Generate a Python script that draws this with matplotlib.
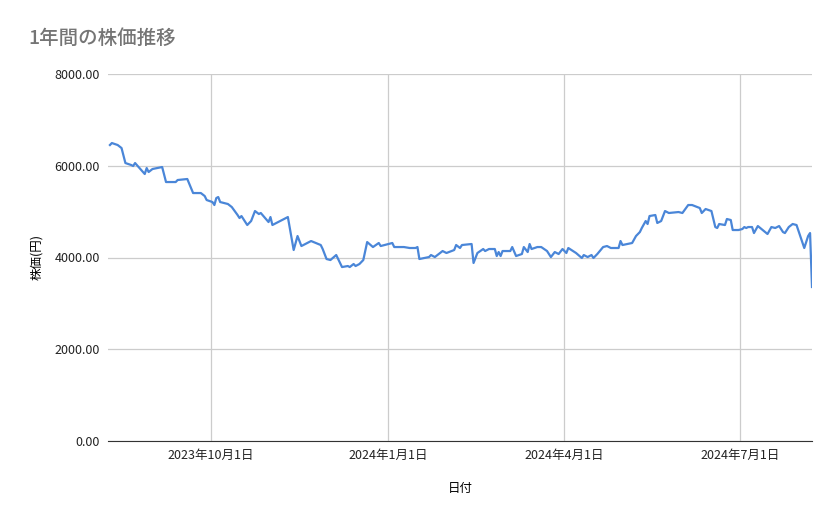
import datetime as dt
import matplotlib
matplotlib.use("Agg")
import matplotlib.pyplot as plt
from matplotlib.ticker import FuncFormatter

plt.rcParams["font.family"] = ["Noto Sans CJK JP", "DejaVu Sans"]

START = dt.date(2023, 8, 9)

# days since START, price (yen)
days = [1, 2, 5, 7, 9, 12, 13, 14, 19, 20, 21, 23, 28, 30, 35, 36, 41, 44, 48, 50,
        51, 54, 55, 56, 57, 58, 62, 64, 67, 68, 69, 72, 74, 76, 78, 79, 83, 84, 85, 93,
        96, 98, 100, 105, 110, 111, 113, 115, 118, 121, 124, 125, 127, 128, 130, 132,
        134, 137, 140, 141, 147, 148, 153, 156, 159, 160, 161, 166, 167, 169, 173, 175,
        179, 180, 182, 183, 188, 189, 191, 194, 195, 197, 200, 201, 202, 203, 204, 208,
        209, 211, 214, 215, 217, 218, 219, 222, 224, 227, 229, 231, 233, 235, 237, 238,
        242, 245, 246, 248, 250, 251, 253, 256, 258, 260, 264, 265, 266, 271, 273, 275,
        276, 278, 279, 280, 283, 284, 286, 288, 290, 295, 297, 300, 302, 306, 307, 309,
        312, 314, 315, 316, 319, 320, 322, 323, 326, 328, 329, 330, 331, 333, 334, 336,
        341, 343, 345, 347, 349, 350, 352, 354, 356, 360, 362, 363, 364]
prices = [6452, 6495, 6452, 6386, 6059, 6016, 5994, 6059, 5820, 5950, 5863, 5929, 5972, 5645, 5645, 5689, 5711, 5405, 5405, 5340,
          5253, 5209, 5144, 5296, 5318, 5209, 5166, 5100, 4926, 4860, 4904, 4708, 4795, 5013, 4948, 4970, 4773, 4882, 4708, 4882,
          4163, 4468, 4250, 4359, 4272, 4185, 3967, 3945, 4054, 3792, 3814, 3792, 3858, 3814, 3858, 3945,
          4337, 4228, 4316, 4250, 4316, 4228, 4228, 4207, 4207, 4228, 3967, 4010, 4054, 4010, 4141, 4098,
          4163, 4272, 4207, 4272, 4294, 3880, 4098, 4185, 4141, 4185, 4185, 4032, 4119, 4032, 4141, 4141,
          4228, 4032, 4076, 4228, 4119, 4294, 4185, 4228, 4228, 4141, 4010, 4119, 4076, 4185, 4098, 4207,
          4098, 3989, 4054, 4010, 4054, 3989, 4076, 4228, 4250, 4207, 4207, 4359, 4272, 4316, 4468, 4555,
          4643, 4795, 4730, 4904, 4926, 4752, 4795, 5013, 4970, 4991, 4970, 5144, 5144, 5078, 4970, 5057,
          5013, 4664, 4643, 4730, 4708, 4839, 4817, 4599, 4599, 4621, 4664, 4643, 4664, 4664, 4533, 4686,
          4512, 4664, 4643, 4686, 4555, 4533, 4664, 4730, 4708, 4207, 4468, 4533, 3357]

dates = [START + dt.timedelta(days=d) for d in days]

fig = plt.figure(figsize=(8.39, 5.19), dpi=100)
ax = fig.add_axes([108 / 839, 1 - 441 / 519, (812 - 108) / 839, (441 - 74) / 519])

ax.plot(dates, prices, color="#4a86d8", linewidth=1.6)

ax.set_xlim(START, START + dt.timedelta(days=364))
ax.set_ylim(0, 8000)
ax.set_yticks([0, 2000, 4000, 6000, 8000])
ax.yaxis.set_major_formatter(FuncFormatter(lambda v, p: f"{v:.2f}"))

ticks = [dt.date(2023, 10, 1), dt.date(2024, 1, 1), dt.date(2024, 4, 1), dt.date(2024, 7, 1)]
ax.set_xticks(ticks)
ax.set_xticklabels([f"{d.year}年{d.month}月{d.day}日" for d in ticks])

ax.grid(True, color="#cccccc", linewidth=0.9)
ax.set_axisbelow(True)
for s in ax.spines.values():
    s.set_visible(False)
ax.spines["bottom"].set_visible(True)
ax.spines["bottom"].set_color("#333333")
ax.tick_params(length=0, labelsize=9, colors="#222222", pad=6)

ax.set_xlabel("日付", fontsize=9, labelpad=14)
ax.set_ylabel("株価(円)", fontsize=9, labelpad=8)
fig.text(28 / 839, 1 - 38 / 519, "1年間の株価推移", fontsize=14, color="#757575",
         fontweight="medium", va="center")

fig.savefig("out.png", dpi=100)
